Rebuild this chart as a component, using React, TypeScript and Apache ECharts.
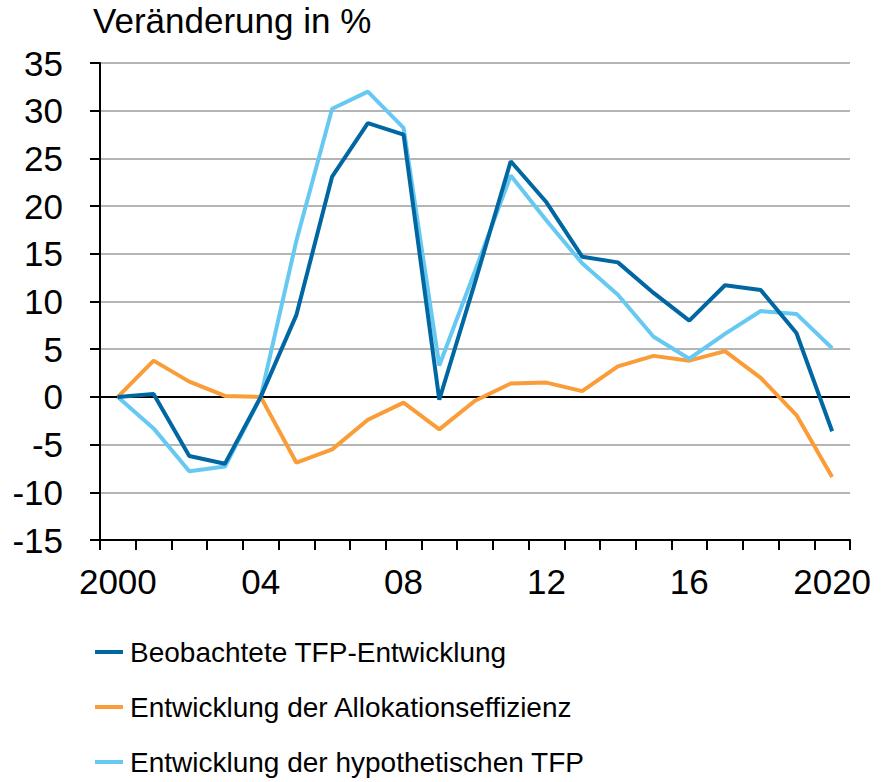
import React, { useEffect, useRef } from "react";
import * as echarts from "echarts";

const years = ["2000","01","02","03","04","05","06","07","08","09","10","11","12","13","14","15","16","17","18","19","2020"];
const beobachtet = [0, 0.3, -6.2, -7.0, 0, 8.6, 23.1, 28.7, 27.5, -0.3, 12.0, 24.7, 20.4, 14.7, 14.1, 10.9, 8.0, 11.7, 11.2, 6.7, -3.6];
const allokation = [0, 3.8, 1.6, 0.1, 0, -6.9, -5.5, -2.4, -0.6, -3.4, -0.4, 1.4, 1.5, 0.6, 3.2, 4.3, 3.8, 4.8, 2.0, -1.9, -8.4];
const hypothetisch = [0, -3.3, -7.8, -7.3, 0, 16.4, 30.2, 32.0, 28.2, 3.3, 13.2, 23.2, 18.5, 14.0, 10.7, 6.3, 4.0, 6.6, 9.0, 8.7, 5.1];
const seriesNames = ["Beobachtete TFP-Entwicklung", "Entwicklung der Allokationseffizienz", "Entwicklung der hypothetischen TFP"];
const colors = ["#0067a2", "#fa9d38", "#67c9f2"];

const FONT = "'Liberation Sans', Arial, sans-serif";

export default function App() {
  const ref = useRef<HTMLDivElement>(null);
  useEffect(() => {
    if (!ref.current) return;
    const chart = echarts.init(ref.current, undefined, { renderer: "svg" });
    const gridColor = "#b5b5b5";
    chart.setOption({
      animation: false,
      title: {
        text: "Veränderung in %",
        left: 93,
        top: 3,
        padding: 0,
        textStyle: { fontFamily: FONT, fontSize: 35, fontWeight: "normal", color: "#000" },
      },
      legend: {
        orient: "vertical",
        left: 95,
        top: 636,
        padding: 0,
        itemWidth: 28,
        itemHeight: 4,
        itemGap: 23,
        icon: "rect",
        textStyle: { fontFamily: FONT, fontSize: 28, lineHeight: 32, color: "#000", padding: [0, 0, 0, 2] },
        data: seriesNames,
      },
      grid: { left: 100, right: 31, top: 63, bottom: 242, containLabel: false },
      xAxis: {
        type: "category",
        data: years,
        boundaryGap: true,
        axisLine: { onZero: false, lineStyle: { color: "#000", width: 2 } },
        axisTick: { show: true, interval: 0, length: 10, lineStyle: { color: "#000", width: 2 } },
        axisLabel: { interval: 3, margin: 24, fontFamily: FONT, fontSize: 35, color: "#000" },
        splitLine: { show: false },
      },
      yAxis: {
        type: "value",
        min: -15,
        max: 35,
        interval: 5,
        axisLine: { show: true, lineStyle: { color: "#000", width: 2 } },
        axisTick: { show: true, length: 10, lineStyle: { color: "#000", width: 2 } },
        axisLabel: { margin: 37, fontFamily: FONT, fontSize: 35, color: "#000" },
        splitLine: {
          show: true,
          lineStyle: {
            width: 2,
            color: [gridColor, gridColor, gridColor, "#000", gridColor, gridColor, gridColor, gridColor, gridColor, gridColor, gridColor],
          },
        },
      },
      series: [
        { name: seriesNames[1], type: "line", data: allokation, color: colors[1], symbol: "none", lineStyle: { width: 4, color: colors[1] }, z: 2 },
        { name: seriesNames[2], type: "line", data: hypothetisch, color: colors[2], symbol: "none", lineStyle: { width: 4, color: colors[2] }, z: 3 },
        { name: seriesNames[0], type: "line", data: beobachtet, color: colors[0], symbol: "none", lineStyle: { width: 4, color: colors[0] }, z: 4 },
      ],
    });
    return () => chart.dispose();
  }, []);
  return <div ref={ref} style={{ width: 881, height: 782, position: "absolute", left: 0, top: 0 }} />;
}
